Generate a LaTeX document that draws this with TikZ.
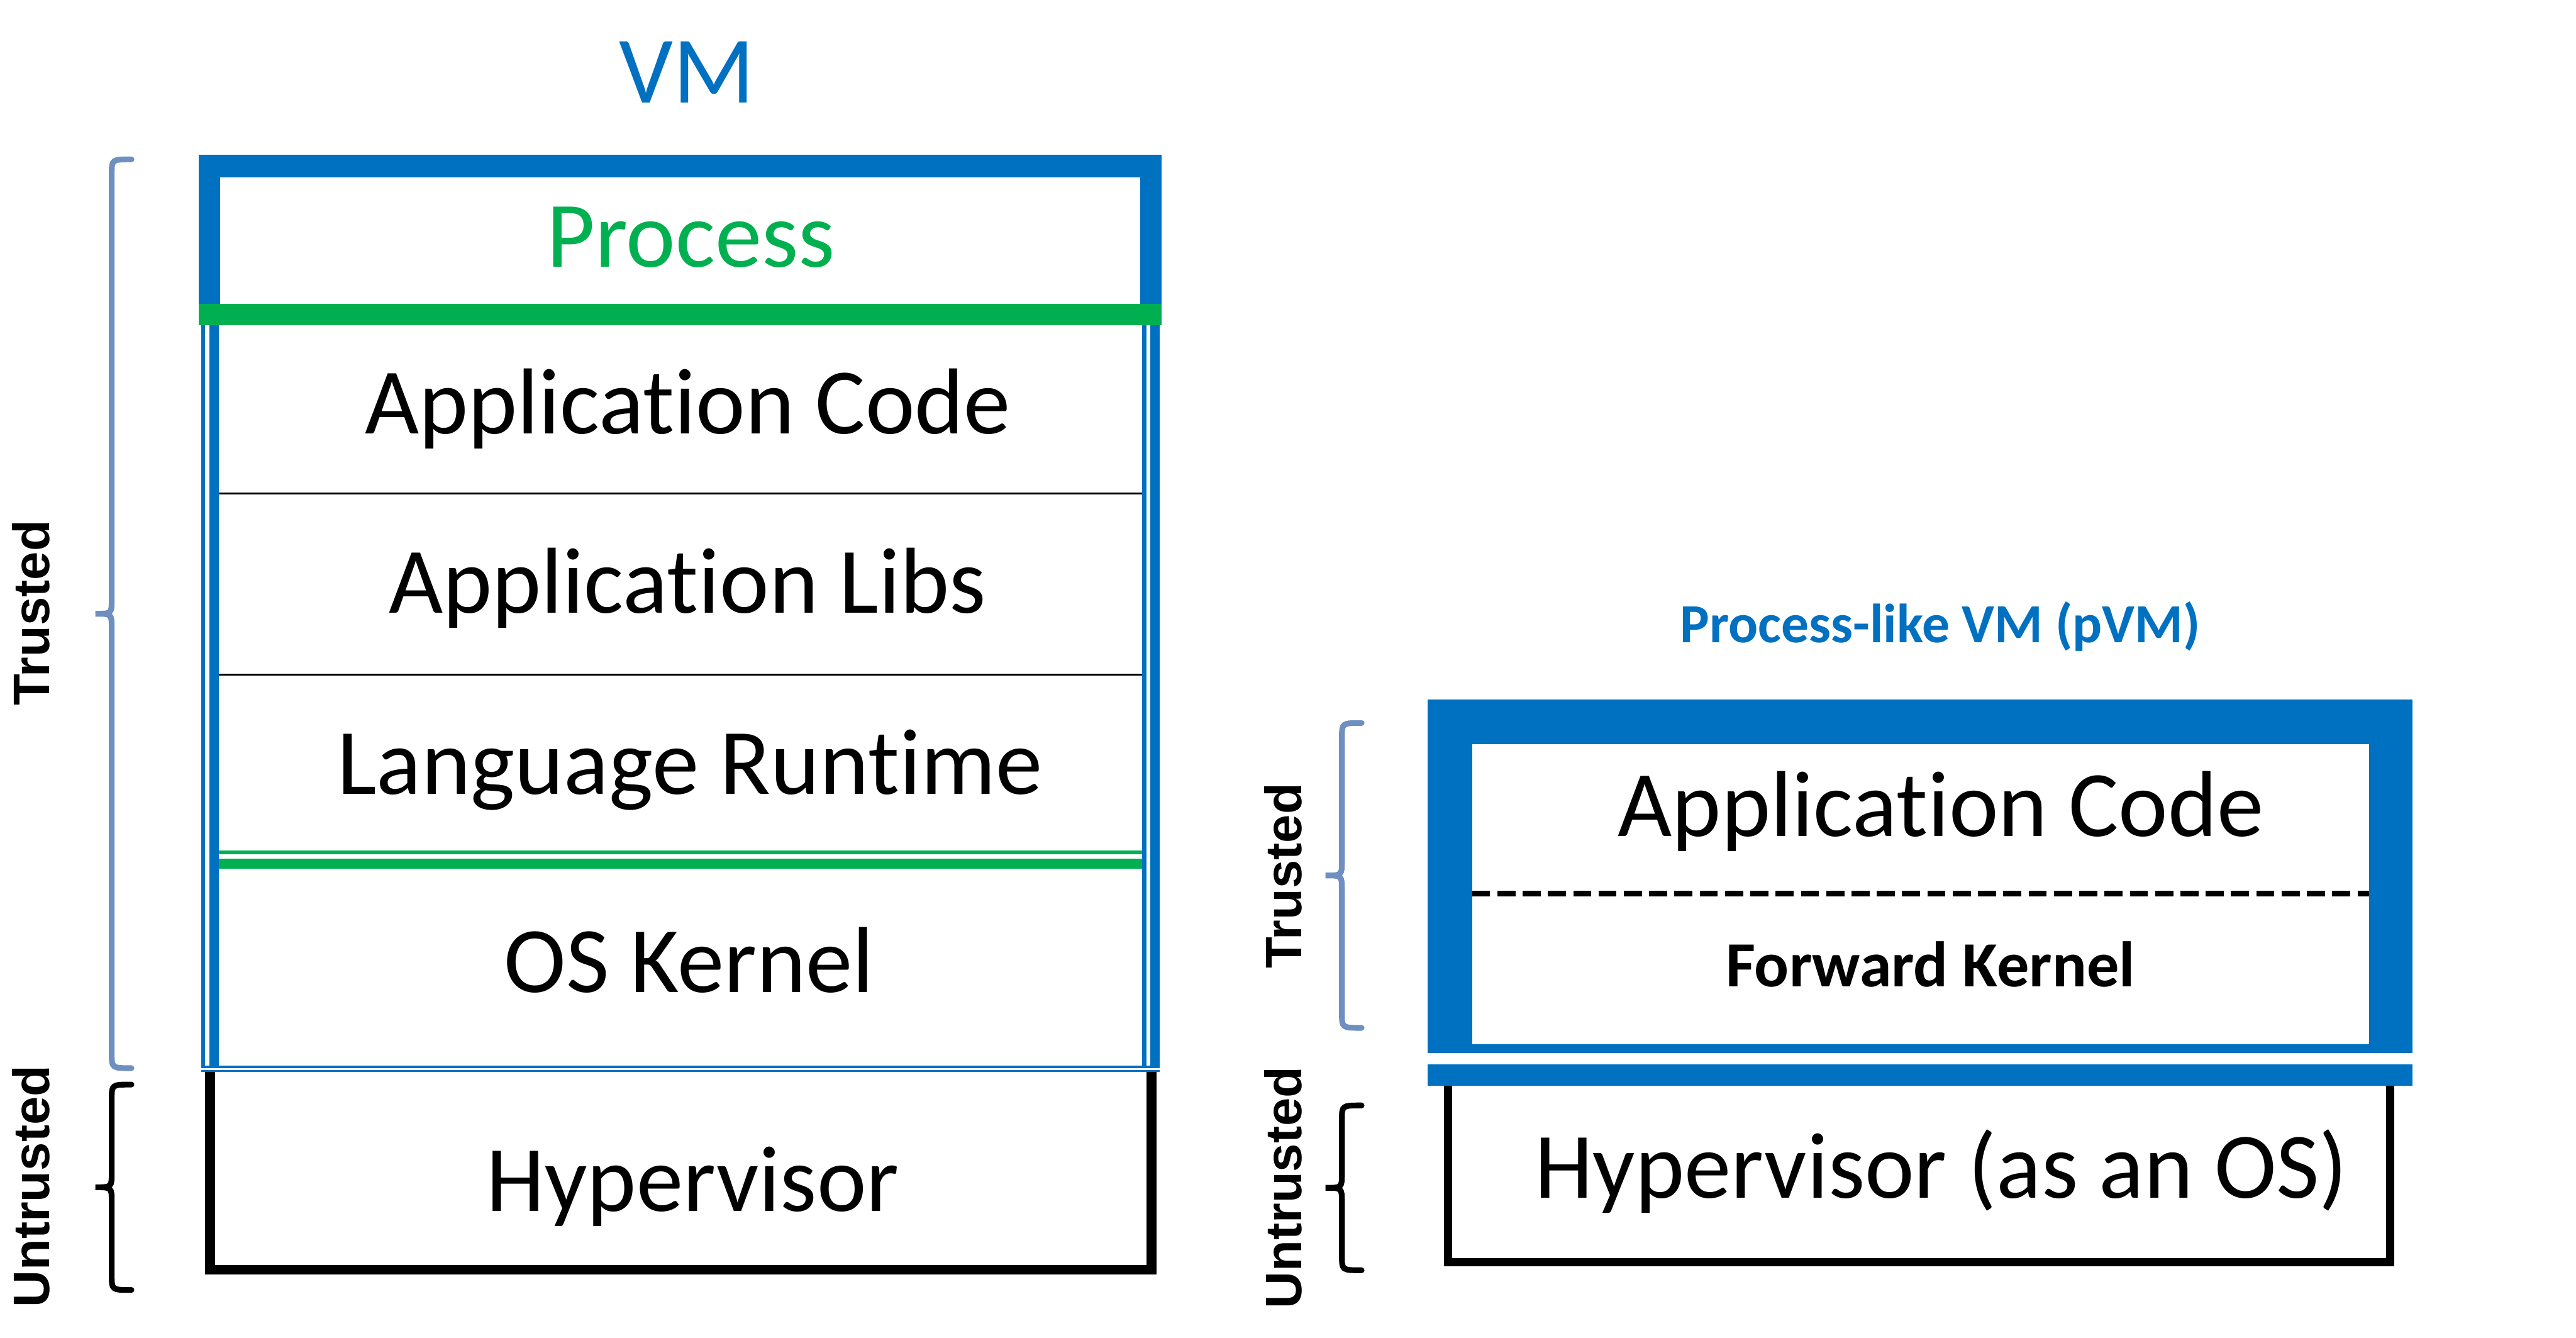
\documentclass[tikz,border=0pt]{standalone}
\usepackage{xcolor}
\usepackage{fontspec}
\setmainfont{Carlito}[Ligatures={NoCommon}]
\newfontfamily\sidefont{Liberation Sans}
\usepackage{tikz}
\definecolor{vmblue}{HTML}{0070C0}
\definecolor{procgreen}{HTML}{00B050}
\definecolor{bracegray}{HTML}{6F8FC0}

% curly brace opening to the right, tip on the left
\newcommand{\sidebrace}[4][black]{%
  \draw[line width=1.75pt, line cap=round, #1]
    (#2,#3) .. controls ({#2-12},#3) .. ({#2-12},{#3+9})
    -- ({#2-12},{(#3+#4)/2-9}) .. controls ({#2-12},{(#3+#4)/2}) .. ({#2-22},{(#3+#4)/2})
    .. controls ({#2-12},{(#3+#4)/2}) .. ({#2-12},{(#3+#4)/2+9})
    -- ({#2-12},{#4-9}) .. controls ({#2-12},#4) .. (#2,#4);}

\begin{document}
\begin{tikzpicture}[x=0.5pt, y=-0.5pt,
  layertext/.style={inner sep=0pt, anchor=base, font=\fontsize{28.5}{30}\selectfont},
  sidelabel/.style={inner sep=0pt, rotate=90, font=\sidefont\bfseries\fontsize{15.6}{17}\selectfont}]
\useasboundingbox (0,0) rectangle (1568,814);

% ---- VM stack ----
\fill[vmblue] (121,94) rectangle (707,185);
\fill[white] (134,108) rectangle (694,185);
\fill[procgreen] (121,185) rectangle (707,198);
\draw[vmblue, line width=1.25pt] (123.6,198) -- (123.6,650);
\draw[vmblue, line width=2.9pt] (130.5,198) -- (130.5,649);
\draw[vmblue, line width=1.25pt] (696.5,198) -- (696.5,649);
\draw[vmblue, line width=2.9pt] (703,198) -- (703,650);
\draw[vmblue, line width=0.65pt] (122.4,649.2) -- (706,649.2);
\draw[vmblue, line width=0.7pt] (122.4,651.7) -- (706,651.7);
\draw[line width=0.55pt] (133.4,300.2) -- (695.2,300.2);
\draw[line width=0.55pt] (133.4,410.5) -- (695.2,410.5);
\draw[procgreen, line width=1.15pt] (133.4,518.8) -- (695.2,518.8);
\draw[procgreen, line width=2.9pt] (133.4,525.6) -- (695.2,525.6);
\draw[line width=3pt] (127.8,652.4) |- (700.8,772.7) -- (700.8,652.4);

\node[layertext, text=vmblue, font=\fontsize{29}{30}\selectfont] (vmtitle) at (418,62.4) {VM};
\node[layertext, text=procgreen] (process) at (420.5,162.5) {Process};
\node[layertext] (appcode) at (418.7,264) {Application Code};
\node[layertext] (applibs) at (418.4,373) {Application Libs};
\node[layertext] (runtime) at (420,483.3) {Language Runtime};
\node[layertext] (oskernel) at (419.5,604) {OS Kernel};
\node[layertext] (hyper) at (421.7,737) {Hypervisor};

\node[sidelabel] (trustL) at (19,373) {Trusted};
\node[sidelabel] (untrustL) at (19,722) {Untrusted};
\sidebrace[bracegray]{80}{97}{650}
\sidebrace{80}{660}{785}

% ---- pVM stack ----
\fill[vmblue] (869,425.6) rectangle (1468.6,640.8);
\fill[white] (896,453) rectangle (1442,635.5);
\fill[vmblue] (869,647.6) rectangle (1468.6,660.6);
\draw[dash pattern=on 5.5pt off 2.2pt, line width=1.7pt] (896,543.8) -- (1442,543.8);
\draw[line width=2.5pt] (881.5,660.6) |- (1455,768) -- (1455,660.6);

\node[inner sep=0pt, anchor=base, text=vmblue, font=\bfseries\fontsize{16.8}{18}\selectfont] (pvmtitle) at (1181,391) {Process-like VM (pVM)};
\node[layertext] (pappcode) at (1181.5,508.8) {Application Code};
\node[inner sep=0pt, anchor=base, font=\bfseries\fontsize{19.6}{21}\selectfont] (fwdkernel) at (1175,600.5) {Forward Kernel};
\node[layertext] (phyper) at (1181.6,729) {Hypervisor (as an OS)};

\node[sidelabel] (trustR) at (781,533) {Trusted};
\node[sidelabel] (untrustR) at (781,722.7) {Untrusted};
\sidebrace[bracegray]{828.8}{440}{625.5}
\sidebrace{828.8}{672.7}{773}
\end{tikzpicture}
\end{document}
